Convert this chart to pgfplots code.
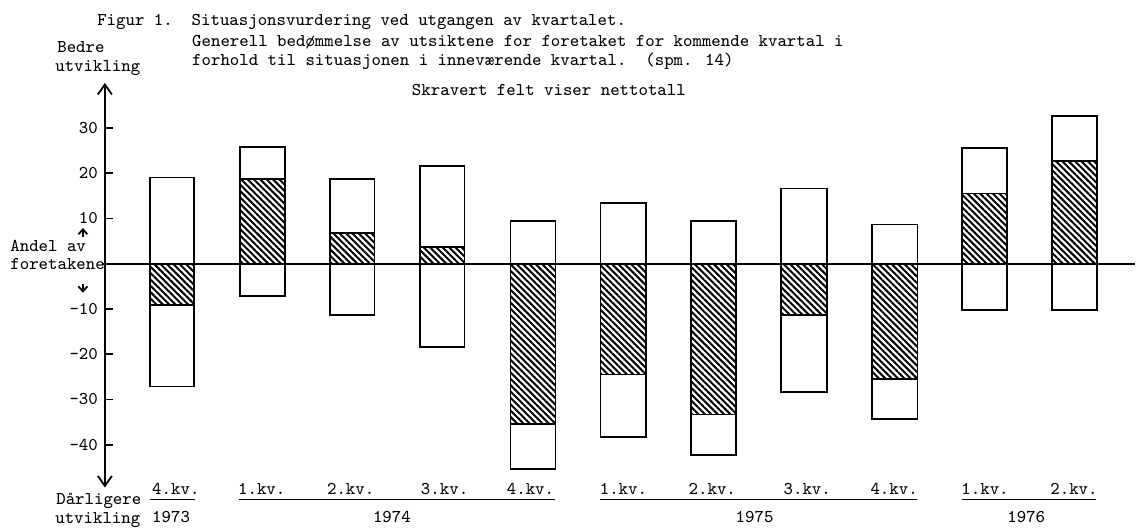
\documentclass[border=0pt]{standalone}
\usepackage{pgfplots}
\pgfplotsset{compat=1.18}
\usetikzlibrary{patterns.meta, arrows.meta}
\newcommand{\tf}{\fontsize{9}{10}\selectfont\ttfamily}
\tikzset{
  bx/.style={draw=black, line width=0.85pt, fill=white},
  ht/.style={draw=black, line width=0.85pt, pattern={Lines[angle=-45,distance=2.25pt,line width=1pt]}, pattern color=black},
  tx/.style={anchor=base west, inner sep=0pt, font=\tf},
}
\begin{document}
\begin{tikzpicture}
\begin{axis}[
  scale only axis,
  width=515.5pt, height=202.5pt,
  xmin=105, xmax=1136,
  ymin=-49.45, ymax=39.96,
  axis x line=none,
  axis y line=left,
  y axis line style={line width=0.9pt, arrows={Straight Barb[length=5pt,width=7pt]-Straight Barb[length=5pt,width=7pt]}},
  ytick={-40,-30,-20,-10,10,20,30},
  tick align=inside,
  major tick length=4pt,
  ytick style={line width=0.9pt, black},
  yticklabel style={font=\tf, /pgf/number format/assume math mode=true},
  no marks,
  clip=false,
]
% page frame (1136 x 530 px)
\path (axis cs:0,58.28) rectangle (axis cs:1136,-58.72);

% full boxes (bottom .. top)
\addplot[bx] coordinates {(150,-27.1) (194.5,-27.1) (194.5,19.05) (150,19.05)} --cycle;
\addplot[bx] coordinates {(240,-7.2) (285,-7.2) (285,25.8) (240,25.8)} --cycle;
\addplot[bx] coordinates {(330,-11.3) (375,-11.3) (375,18.7) (330,18.7)} --cycle;
\addplot[bx] coordinates {(420.5,-18.4) (465,-18.4) (465,21.6) (420.5,21.6)} --cycle;
\addplot[bx] coordinates {(511,-45.3) (556,-45.3) (556,9.5) (511,9.5)} --cycle;
\addplot[bx] coordinates {(601,-38.3) (646.5,-38.3) (646.5,13.4) (601,13.4)} --cycle;
\addplot[bx] coordinates {(692,-42.3) (737,-42.3) (737,9.5) (692,9.5)} --cycle;
\addplot[bx] coordinates {(782,-28.4) (827.5,-28.4) (827.5,16.6) (782,16.6)} --cycle;
\addplot[bx] coordinates {(873,-34.3) (918.5,-34.3) (918.5,8.7) (873,8.7)} --cycle;
\addplot[bx] coordinates {(963,-10.2) (1008,-10.2) (1008,25.5) (963,25.5)} --cycle;
\addplot[bx] coordinates {(1053,-10.2) (1098,-10.2) (1098,32.7) (1053,32.7)} --cycle;

% hatched net totals (0 .. net)
\addplot[ht] coordinates {(150,0) (194.5,0) (194.5,-9.05) (150,-9.05)} --cycle;
\addplot[ht] coordinates {(240,0) (285,0) (285,18.8) (240,18.8)} --cycle;
\addplot[ht] coordinates {(330,0) (375,0) (375,6.8) (330,6.8)} --cycle;
\addplot[ht] coordinates {(420.5,0) (465,0) (465,3.7) (420.5,3.7)} --cycle;
\addplot[ht] coordinates {(511,0) (556,0) (556,-35.4) (511,-35.4)} --cycle;
\addplot[ht] coordinates {(601,0) (646.5,0) (646.5,-24.5) (601,-24.5)} --cycle;
\addplot[ht] coordinates {(692,0) (737,0) (737,-33.3) (692,-33.3)} --cycle;
\addplot[ht] coordinates {(782,0) (827.5,0) (827.5,-11.4) (782,-11.4)} --cycle;
\addplot[ht] coordinates {(873,0) (918.5,0) (918.5,-25.4) (873,-25.4)} --cycle;
\addplot[ht] coordinates {(963,0) (1008,0) (1008,15.5) (963,15.5)} --cycle;
\addplot[ht] coordinates {(1053,0) (1098,0) (1098,22.7) (1053,22.7)} --cycle;

% zero line
\addplot[black, line width=1.1pt] coordinates {(103,0) (1136,0)};

% titles
\node[tx] at (axis cs:97,52.54) {Figur 1.\ \ Situasjonsvurdering ved utgangen av kvartalet.};
\node[tx] at (axis cs:192,47.90) {Generell bedømmelse av utsiktene for foretaket for kommende kvartal i};
\node[tx] at (axis cs:192,43.71) {forhold til situasjonen i inneværende kvartal.\ \ (spm. 14)};
\node[tx] at (axis cs:412,37.09) {Skravert felt viser nettotall};

% left annotations
\node[tx] at (axis cs:57,46.58) {Bedre};
\node[tx] at (axis cs:55,42.38) {utvikling};
\node[tx] at (axis cs:10,2.65) {Andel av};
\node[tx] at (axis cs:10,-1.32) {foretakene};
\draw[line width=0.9pt, -{Straight Barb[length=2.5pt,width=4.5pt]}] (axis cs:83,5.9) -- (axis cs:83,7.9);
\draw[line width=0.9pt, -{Straight Barb[length=2.5pt,width=4.5pt]}] (axis cs:83,-4.4) -- (axis cs:83,-6.4);
\node[tx] at (axis cs:56,-53.20) {Dårligere};
\node[tx] at (axis cs:55,-57.40) {utvikling};

% category labels
\node[tx] at (axis cs:152,-50.99) {4.kv.};
\node[tx] at (axis cs:152,-57.17) {1973};
\draw[line width=0.7pt] (axis cs:150,-52.1) -- (axis cs:195,-52.1);

\node[tx] at (axis cs:238,-50.99) {1.kv.};
\node[tx] at (axis cs:327,-50.99) {2.kv.};
\node[tx] at (axis cs:421,-50.99) {3.kv.};
\node[tx] at (axis cs:507,-50.99) {4.kv.};
\draw[line width=0.7pt] (axis cs:239,-52.1) -- (axis cs:556,-52.1);
\node[tx] at (axis cs:373,-57.17) {1974};

\node[tx] at (axis cs:600,-50.99) {1.kv.};
\node[tx] at (axis cs:689,-50.99) {2.kv.};
\node[tx] at (axis cs:784,-50.99) {3.kv.};
\node[tx] at (axis cs:871,-50.99) {4.kv.};
\draw[line width=0.7pt] (axis cs:601,-52.1) -- (axis cs:918,-52.1);
\node[tx] at (axis cs:736,-57.17) {1975};

\node[tx] at (axis cs:962,-50.99) {1.kv.};
\node[tx] at (axis cs:1051,-50.99) {2.kv.};
\draw[line width=0.7pt] (axis cs:963,-52.1) -- (axis cs:1097,-52.1);
\node[tx] at (axis cs:1008,-57.17) {1976};
\end{axis}
\end{tikzpicture}
\end{document}
